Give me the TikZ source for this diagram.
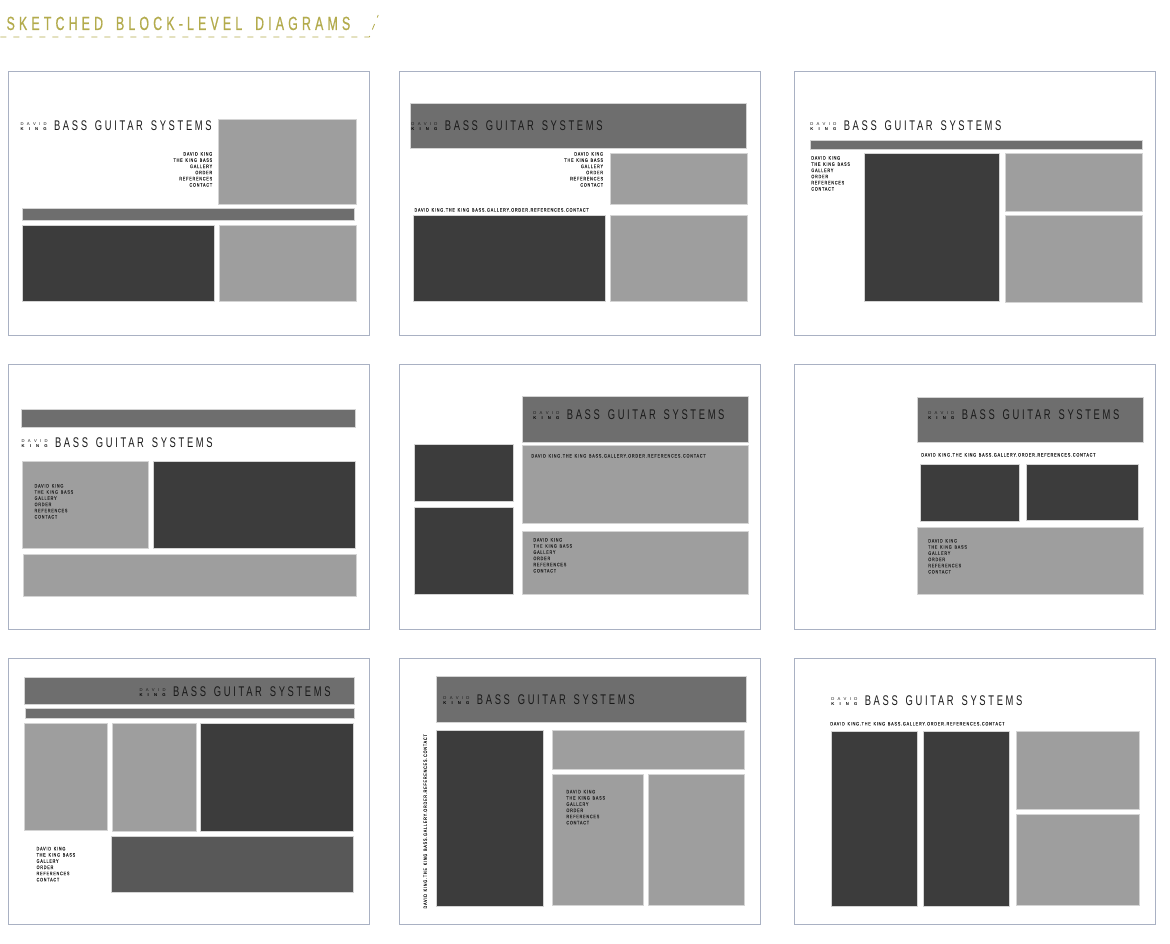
\documentclass[tikz,border=0pt]{standalone}
\usepackage{fontspec}
\usepackage{xcolor}
\setmainfont{Liberation Sans}
\newfontfamily\titlefont[FakeStretch=0.65,LetterSpace=22,WordSpace=1.7,FakeBold=0.6]{Liberation Sans}
\newfontfamily\namefont[FakeStretch=0.67,LetterSpace=19,WordSpace=1.5]{Liberation Sans}
\newfontfamily\navfont[FakeStretch=0.75,LetterSpace=16,WordSpace=1.5,FakeBold=0.1]{Liberation Sans}
\newfontfamily\markfont{Liberation Sans}

\definecolor{titleolive}{HTML}{B3AB4C}
\definecolor{boxdark}{HTML}{3C3C3C}
\definecolor{boxmid}{HTML}{6E6E6E}
\definecolor{boxlight}{HTML}{9E9E9E}
\definecolor{boxdeep}{HTML}{585858}
\definecolor{boxedge}{HTML}{D4D4D4}
\definecolor{frameblue}{HTML}{A9B1C3}
\definecolor{navgrey}{HTML}{303030}

\newcommand{\navlist}{DAVID KING\\THE KING BASS\\GALLERY\\ORDER\\REFERENCES\\CONTACT}
\newcommand{\navline}{DAVID KING.THE KING BASS.GALLERY.ORDER.REFERENCES.CONTACT}

\begin{document}
\begin{tikzpicture}[x=1pt, y=-1pt,
    frame/.style={draw=frameblue, line width=0.9pt},
    darkbox/.style={fill=boxdark, draw=boxedge, line width=0.7pt},
    midbox/.style={fill=boxmid, draw=boxedge, line width=0.7pt},
    lightbox/.style={fill=boxlight, draw=boxedge, line width=0.7pt},
    deepbox/.style={fill=boxdeep, draw=boxedge, line width=0.7pt},
    menu/.style={font=\navfont\fontsize{5}{6.2}\selectfont, text=navgrey, inner sep=0, align=left, anchor=north west},
    menuright/.style={menu, align=right, anchor=north east},
    menuline/.style={font=\navfont\fontsize{5}{6.2}\selectfont, text=navgrey, inner sep=0, anchor=west},
    logo/.pic={
        \node[anchor=base west, inner sep=0, font=\markfont\fontsize{4.2}{5}\selectfont, text=black!90] (-david) at (0,-5.5) {\makebox[26pt][s]{D\hfill A\hfill V\hfill I\hfill D}};
        \node[anchor=base west, inner sep=0, font=\markfont\bfseries\fontsize{4.2}{5}\selectfont] (-king) at (0,0) {\makebox[26pt][s]{K\hfill I\hfill N\hfill G}};
        \node[anchor=base west, inner sep=0, font=\namefont\fontsize{14}{14}\selectfont, text=black!90] (-name) at (33.5,0) {BASS GUITAR SYSTEMS};
    }]
                % Background
                \fill[white] (0,0) rectangle (1170,944);

                % Title
                \node[anchor=base west, inner sep=0, text=titleolive, font=\titlefont\fontsize{19}{19}\selectfont] (title) at (6,30) {SKETCHED BLOCK-LEVEL DIAGRAMS};
                \draw[titleolive, line width=0.8pt, dash pattern=on 6pt off 7pt] (0,37) -- (369,37) -- (378,15);

                % Frames
                \draw[frame] (8,71) rectangle (369,336);
                \draw[frame] (399,71) rectangle (760,336);
                \draw[frame] (794,71) rectangle (1155,336);
                \draw[frame] (8,365) rectangle (369,630);
                \draw[frame] (399,365) rectangle (760,630);
                \draw[frame] (794,365) rectangle (1155,630);
                \draw[frame] (8,659) rectangle (369,925);
                \draw[frame] (399,659) rectangle (760,925);
                \draw[frame] (794,659) rectangle (1155,925);

                % Layout 1
                \filldraw[lightbox] (218,119) rectangle (356,204);
                \filldraw[midbox] (22,208) rectangle (354,220);
                \filldraw[darkbox] (22,225) rectangle (214,301);
                \filldraw[lightbox] (219,225) rectangle (356,301);
                \pic (logoA) at (20,131) {logo};
                \node[menuright] (navA) at (212,152) {\navlist};

                % Layout 2
                \filldraw[midbox] (410,103) rectangle (746,148);
                \filldraw[lightbox] (610,153) rectangle (747,204);
                \filldraw[darkbox] (413,215) rectangle (605,301);
                \filldraw[lightbox] (610,215) rectangle (747,301);
                \pic (logoB) at (411,131) {logo};
                \node[menuright] (navB) at (603,152) {\navlist};
                \node[menuline] (lineB) at (414,210) {\navline};

                % Layout 3
                \filldraw[midbox] (810,140) rectangle (1142,149);
                \filldraw[darkbox] (864,153) rectangle (999,301);
                \filldraw[lightbox] (1005,153) rectangle (1142,211);
                \filldraw[lightbox] (1005,215) rectangle (1142,302);
                \pic (logoC) at (810,131) {logo};
                \node[menu] (navC) at (811,156) {\navlist};

                % Layout 4
                \filldraw[midbox] (21,409) rectangle (355,427);
                \filldraw[lightbox] (22,462) rectangle (148,549);
                \filldraw[darkbox] (153,462) rectangle (355,549);
                \filldraw[lightbox] (23,555) rectangle (356,597);
                \pic (logoD) at (21,448) {logo};
                \node[menu] (navD) at (34,484) {\navlist};

                % Layout 5
                \filldraw[midbox] (522,396) rectangle (748,442);
                \filldraw[lightbox] (522,446) rectangle (748,524);
                \filldraw[lightbox] (522,532) rectangle (748,595);
                \filldraw[darkbox] (414,445) rectangle (513,502);
                \filldraw[darkbox] (414,508) rectangle (513,595);
                \pic (logoE) at (533,420) {logo};
                \node[menuline] (lineE) at (531,456) {\navline};
                \node[menu] (navE) at (533,538) {\navlist};

                % Layout 6
                \filldraw[midbox] (917,397) rectangle (1143,442);
                \filldraw[darkbox] (920,465) rectangle (1019,522);
                \filldraw[darkbox] (1026,465) rectangle (1138,521);
                \filldraw[lightbox] (917,528) rectangle (1143,595);
                \pic (logoF) at (928,420) {logo};
                \node[menuline] (lineF) at (921,455) {\navline};
                \node[menu] (navF) at (928,539) {\navlist};

                % Layout 7
                \filldraw[midbox] (24,678) rectangle (354,705);
                \filldraw[midbox] (25,709) rectangle (354,719);
                \filldraw[lightbox] (24,724) rectangle (107,831);
                \filldraw[lightbox] (112,724) rectangle (196,832);
                \filldraw[darkbox] (200,724) rectangle (353,832);
                \filldraw[deepbox] (111,837) rectangle (353,893);
                \pic (logoG) at (139,697) {logo};
                \node[menu] (navG) at (36,847) {\navlist};

                % Layout 8
                \filldraw[midbox] (436,677) rectangle (746,723);
                \filldraw[darkbox] (436,731) rectangle (543,907);
                \filldraw[lightbox] (552,731) rectangle (744,770);
                \filldraw[lightbox] (552,775) rectangle (643,906);
                \filldraw[lightbox] (648,775) rectangle (744,906);
                \pic (logoH) at (443,705) {logo};
                \node[menu] (navH) at (566,790) {\navlist};
                \node[menuline, rotate=90] (lineH) at (425,909) {\navline};

                % Layout 9
                \filldraw[darkbox] (831,732) rectangle (917,907);
                \filldraw[darkbox] (923,732) rectangle (1009,907);
                \filldraw[lightbox] (1016,732) rectangle (1139,810);
                \filldraw[lightbox] (1016,815) rectangle (1139,906);
                \pic (logoI) at (831,706) {logo};
                \node[menuline] (lineI) at (830,724) {\navline};
\end{tikzpicture}
\end{document}
